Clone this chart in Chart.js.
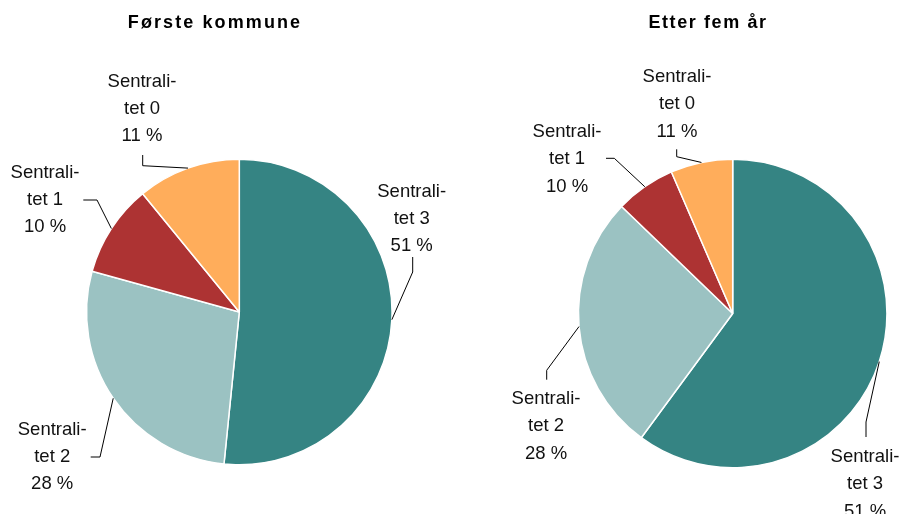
<!DOCTYPE html>
<html>
<head>
<meta charset="utf-8">
<script src="https://cdn.jsdelivr.net/npm/chart.js@4.4.1/dist/chart.umd.min.js"></script>
<style>
  html, body { margin: 0; padding: 0; background: #fff; }
  .wrap { display: flex; width: 902px; height: 514px; overflow: hidden; }
  canvas { display: block; }
</style>
</head>
<body>
<div class="wrap">
  <canvas id="first" width="451" height="514"></canvas>
  <canvas id="after" width="451" height="514"></canvas>
</div>
<script>
// slices in drawing order (clockwise from 12 o'clock)
const categories = ['Sentralitet 3', 'Sentralitet 2', 'Sentralitet 1', 'Sentralitet 0'];
const labelLines = [['Sentrali-', 'tet 3'], ['Sentrali-', 'tet 2'], ['Sentrali-', 'tet 1'], ['Sentrali-', 'tet 0']];
const firstValues = [51.6, 27.7, 9.8, 10.9];
const afterValues = [60.1, 27.1, 6.3, 6.5];
// percentage texts as printed on the chart
const firstPctText = ['51 %', '28 %', '10 %', '11 %'];
const afterPctText = ['51 %', '28 %', '10 %', '11 %'];
const colors = ['#358483', '#9BC2C2', '#AD3333', '#FFAD5B'];

// label placement relative to pie centre: text = first baseline, p0/p1 = leader bends
const firstLayout = [
    { text: [172.4, -115], p0: [173.4, -55], p1: [173.4, -40] },
    { text: [-187.1, 123.3], p0: [-148.6, 145], p1: [-139.3, 145] },
    { text: [-194.3, -134], p0: [-156, -112], p1: [-142.3, -112] },
    { text: [-97.3, -225], p0: [-96.6, -157], p1: [-96.6, -146.3] }
];
const afterLayout = [
    { text: [132.3, 148.2], p0: [133.3, 123.5], p1: [133.3, 108.5] },
    { text: [-186.7, 90.2], p0: [-186, 66.2], p1: [-186, 56.8] },
    { text: [-165.7, -176.8], p0: [-126.7, -155.2], p1: [-118.4, -155.2] },
    { text: [-55.7, -231.8], p0: [-56, -164.2], p1: [-56, -156.8] }
];

const pieLabels = {
    id: 'pieLabels',
    afterDraw(chart, args, opts) {
        const ctx = chart.ctx;
        ctx.save();
        // title
        ctx.font = 'bold 18px "Liberation Sans", Arial, sans-serif';
        ctx.fillStyle = '#000';
        ctx.textAlign = 'center';
        ctx.textBaseline = 'alphabetic';
        if ('letterSpacing' in ctx) ctx.letterSpacing = opts.spacing;
        ctx.fillText(opts.title, opts.titleX, 27.5);
        if ('letterSpacing' in ctx) ctx.letterSpacing = '0px';

        const arcs = chart.getDatasetMeta(0).data;
        ctx.font = '18.5px "Liberation Sans", Arial, sans-serif';
        ctx.fillStyle = '#111';
        ctx.strokeStyle = '#000';
        ctx.lineWidth = 1;
        arcs.forEach((arc, i) => {
            const { x, y, startAngle, endAngle, outerRadius } = arc.getProps(['x', 'y', 'startAngle', 'endAngle', 'outerRadius'], true);
            const mid = (startAngle + endAngle) / 2;
            const ax = x + outerRadius * Math.cos(mid);
            const ay = y + outerRadius * Math.sin(mid);
            const lay = opts.layout[i];
            ctx.beginPath();
            ctx.moveTo(x + lay.p0[0], y + lay.p0[1]);
            ctx.lineTo(x + lay.p1[0], y + lay.p1[1]);
            ctx.lineTo(ax, ay);
            ctx.stroke();
            const lines = labelLines[i].concat([opts.pct[i]]);
            lines.forEach((t, k) => {
                ctx.fillText(t, x + lay.text[0], y + lay.text[1] + k * opts.lineGap);
            });
        });
        ctx.restore();
    }
};

function makePie(id, values, pct, layout, title, titleX, spacing, lineGap, padding) {
    return new Chart(document.getElementById(id), {
        type: 'pie',
        data: {
            labels: categories,
            datasets: [{
                data: values,
                backgroundColor: colors,
                borderColor: '#ffffff',
                borderWidth: 1.5
            }]
        },
        options: {
            responsive: false,
            animation: false,
            layout: { padding: padding },
            plugins: {
                legend: { display: false },
                tooltip: { enabled: false },
                pieLabels: { layout: layout, pct: pct, title: title, titleX: titleX, spacing: spacing, lineGap: lineGap }
            }
        },
        plugins: [pieLabels]
    });
}

makePie('first', firstValues, firstPctText, firstLayout, 'Første kommune', 215, '2.1px', 27,
    { top: 158.5, bottom: 48.5, left: 85.8, right: 58.2 });
makePie('after', afterValues, afterPctText, afterLayout, 'Etter fem år', 257, '1.6px', 27.5,
    { top: 158.5, bottom: 45.5, left: 126.7, right: 14.3 });
</script>
</body>
</html>
